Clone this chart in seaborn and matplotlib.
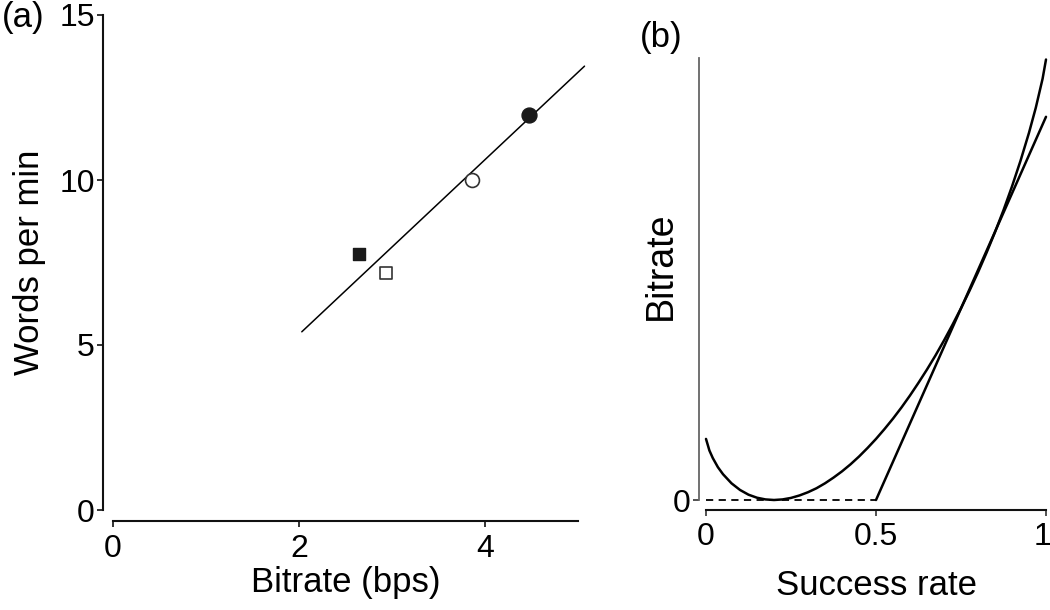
import matplotlib
matplotlib.use("Agg")
import matplotlib.pyplot as plt
import matplotlib.transforms as mtransforms
import seaborn as sns

# ---- data (a) ----
fit_x = [2.03, 5.07]
fit_y = [5.4, 13.45]
fsq_x, fsq_y = [2.64], [7.75]     # filled square
osq_x, osq_y = [2.94], [7.18]     # open square
oci_x, oci_y = [3.86], [10.0]     # open circle
fci_x, fci_y = [4.47], [11.98]    # filled circle
a_xticks = [0, 2, 4]
a_yticks = [0, 5, 10, 15]

# ---- data (b) ----
success_rate = [0, 0.01, 0.02, 0.035, 0.05, 0.075, 0.1, 0.125, 0.15, 0.175, 0.2,
                0.225, 0.25, 0.275, 0.3, 0.325, 0.35, 0.375, 0.4, 0.425, 0.45, 0.475,
                0.5, 0.525, 0.55, 0.575, 0.6, 0.625, 0.65, 0.675, 0.7, 0.725, 0.75,
                0.775, 0.8, 0.825, 0.85, 0.875, 0.9, 0.925, 0.95, 0.97, 0.99, 1.0]
bitrate_curve = [0.322, 0.261, 0.221, 0.173, 0.136, 0.088, 0.053, 0.028, 0.012, 0.003, 0.0,
                 0.003, 0.011, 0.024, 0.041, 0.062, 0.088, 0.118, 0.151, 0.188, 0.229, 0.274,
                 0.322, 0.374, 0.429, 0.488, 0.551, 0.618, 0.688, 0.762, 0.841, 0.924, 1.011,
                 1.103, 1.200, 1.303, 1.412, 1.528, 1.653, 1.788, 1.936, 2.068, 2.221, 2.322]
practical_x = [0.5, 1.0]
practical_y = [0.0, 2.02]
dashed_x = [0.0, 0.5]
dashed_y = [0.0, 0.0]
b_xticks = [0, 0.5, 1]
b_xticklabels = ["0", "0.5", "1"]
b_yticks = [0]

sns.set_style("ticks")
plt.rcParams['font.family'] = ['Liberation Sans', 'DejaVu Sans']
plt.rcParams['text.color'] = 'black'
plt.rcParams['axes.labelcolor'] = 'black'
plt.rcParams['xtick.color'] = 'black'
plt.rcParams['ytick.color'] = 'black'

LABEL_FS = 25
TICK_FS = 23

fig = plt.figure(figsize=(10.5, 6.1), dpi=100)
ax1 = fig.add_axes([113/1050, 100/610, 465/1050, 495/610])
ax2 = fig.add_axes([706/1050, 110/610, 340/1050, 442/610])

# ---------- panel (a) ----------
sns.lineplot(x=fit_x, y=fit_y, ax=ax1, color="black", linewidth=1.1, clip_on=False)
sns.scatterplot(x=fsq_x, y=fsq_y, ax=ax1, marker="s", s=75, color="#1a1a1a",
                edgecolor="#1a1a1a", linewidth=1, zorder=3)
sns.scatterplot(x=osq_x, y=osq_y, ax=ax1, marker="s", s=65, facecolor="white",
                edgecolor="#333333", linewidth=1.2, zorder=3)
sns.scatterplot(x=oci_x, y=oci_y, ax=ax1, marker="o", s=100, facecolor="white",
                edgecolor="#333333", linewidth=1.2, zorder=3)
sns.scatterplot(x=fci_x, y=fci_y, ax=ax1, marker="o", s=115, color="#1a1a1a",
                edgecolor="#1a1a1a", linewidth=1, zorder=3)
ax1.set_xlim(0, 5)
ax1.set_ylim(0, 15)
ax1.set_xticks(a_xticks)
ax1.set_yticks(a_yticks)
ax1.spines['top'].set_visible(False)
ax1.spines['right'].set_visible(False)
ax1.spines['left'].set_position(('outward', 7))
ax1.spines['bottom'].set_position(('outward', 8))
ax1.spines['left'].set_bounds(0, 15)
ax1.spines['bottom'].set_bounds(0, 5)
for sp in ['left', 'bottom']:
    ax1.spines[sp].set_linewidth(1.5)
    ax1.spines[sp].set_color("#111111")
ax1.tick_params(labelsize=TICK_FS, length=4, width=1.2, color="#111111")
ax1.tick_params(axis='x', pad=5)
ax1.tick_params(axis='y', pad=2)
ax1.set_xlabel("Bitrate (bps)", fontsize=LABEL_FS, labelpad=2)
ax1.set_ylabel("Words per min", fontsize=LABEL_FS, labelpad=10)
fig.text(2/1050, 1 - 18/610, "(a)", fontsize=LABEL_FS, va="center", ha="left")

# ---------- panel (b) ----------
sns.lineplot(x=success_rate, y=bitrate_curve, ax=ax2, color="black", linewidth=1.8,
             clip_on=False)
sns.lineplot(x=practical_x, y=practical_y, ax=ax2, color="black", linewidth=1.8,
             clip_on=False)
sns.lineplot(x=dashed_x, y=dashed_y, ax=ax2, color="black", linewidth=1.3,
             linestyle=(0, (4, 3)), clip_on=False)
ax2.set_xlim(0, 1)
ax2.set_ylim(0, 2.33)
ax2.set_xticks(b_xticks)
ax2.set_xticklabels(b_xticklabels)
ax2.set_yticks(b_yticks)
ax2.spines['top'].set_visible(False)
ax2.spines['right'].set_visible(False)
ax2.spines['left'].set_position(('outward', 5))
ax2.spines['bottom'].set_position(('outward', 7))
ax2.spines['left'].set_color("#666666")
ax2.spines['left'].set_linewidth(1.3)
ax2.spines['bottom'].set_color("#111111")
ax2.spines['bottom'].set_linewidth(1.5)
ax2.tick_params(labelsize=TICK_FS, length=4, width=1.2, color="#333333")
ax2.tick_params(axis='x', pad=5)
ax2.tick_params(axis='y', pad=2)
ax2.set_xlabel("Success rate", fontsize=LABEL_FS, labelpad=12)
ax2.set_ylabel("Bitrate", fontsize=LABEL_FS + 2, labelpad=8)
ax2.yaxis.set_label_coords(-0.08, 0.53)
last = ax2.get_xticklabels()[-1]
last.set_transform(last.get_transform() +
                   mtransforms.ScaledTranslation(-4/100, 0, fig.dpi_scale_trans))
fig.text(640/1050, 1 - 38/610, "(b)", fontsize=LABEL_FS, va="center", ha="left")

fig.savefig("out.png", dpi=100, facecolor="white")
